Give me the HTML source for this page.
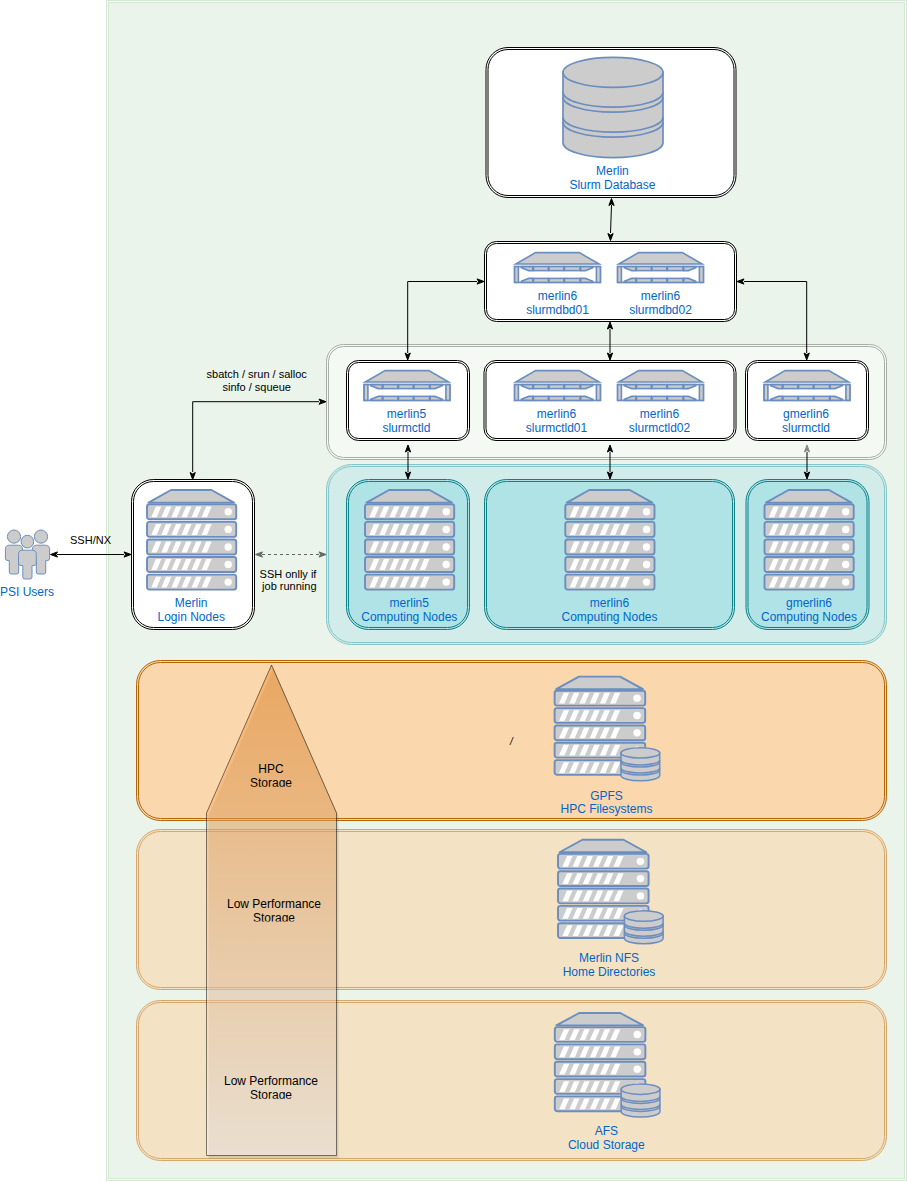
<!DOCTYPE html><html><head><meta charset="utf-8"><style>html,body{margin:0;padding:0;background:#ffffff;}body{width:907px;height:1182px;position:relative;overflow:hidden;font-family:"Liberation Sans", sans-serif;}</style></head><body><svg width="907" height="1182" viewBox="0 0 907 1182" style="position:absolute;left:0;top:0;font-family:&quot;Liberation Sans&quot;, sans-serif">
<defs><linearGradient id="ag" x1="0" y1="0" x2="0" y2="1"><stop offset="0" stop-color="#f38e2b"/><stop offset="1" stop-color="#f8f3ef"/></linearGradient><clipPath id="c1"><rect x="200" y="740" width="150" height="46.8"/></clipPath><clipPath id="c2"><rect x="200" y="880" width="150" height="41.5"/></clipPath><clipPath id="c3"><rect x="200" y="1060" width="150" height="38.8"/></clipPath><filter id="blur" x="-5%" y="-5%" width="110%" height="110%"><feGaussianBlur stdDeviation="0.7"/></filter></defs>
<rect x="106.5" y="0.5" width="800" height="1180" fill="#f4f9f4" stroke="#d5e8d4" stroke-width="1"/>
<rect x="108.5" y="2.5" width="796" height="1176" fill="#eaf4ea" stroke="#d5e8d4" stroke-width="1"/>
<rect x="326.5" y="344.5" width="560" height="115" rx="17" ry="17" fill="#f4f9f4" stroke="#a9aea9" stroke-width="1" />
<rect x="328.5" y="346.5" width="556" height="111" rx="15" ry="15" fill="none" stroke="#a9aea9" stroke-width="1" />
<rect x="326.5" y="464.5" width="560" height="180" rx="25" ry="25" fill="#d2ece9" stroke="#86c6c9" stroke-width="1" />
<rect x="328.5" y="466.5" width="556" height="176" rx="23" ry="23" fill="none" stroke="#86c6c9" stroke-width="1" />
<rect x="486" y="47.5" width="250" height="150" rx="22" ry="22" fill="#ffffff" stroke="#000" stroke-width="1" />
<rect x="488" y="49.5" width="246" height="146" rx="20" ry="20" fill="none" stroke="#000" stroke-width="1" />
<path d="M563,72.4 L563,142.7 A50.0,15 0 0 0 663,142.7 L663,72.4 Z" fill="#cccccc" stroke="#6c8ebf" stroke-width="1.7"/>
<ellipse cx="613.0" cy="72.4" rx="50.0" ry="15" fill="#cccccc" stroke="#6c8ebf" stroke-width="1.7"/>
<path d="M563,92.2 A50.0,15 0 0 0 663,92.2" fill="none" stroke="#6c8ebf" stroke-width="1.7"/>
<path d="M563,97.2 A50.0,15 0 0 0 663,97.2" fill="none" stroke="#6c8ebf" stroke-width="1.7"/>
<path d="M563,117.2 A50.0,15 0 0 0 663,117.2" fill="none" stroke="#6c8ebf" stroke-width="1.7"/>
<path d="M563,122.2 A50.0,15 0 0 0 663,122.2" fill="none" stroke="#6c8ebf" stroke-width="1.7"/>
<text x="612.4" y="175.0" font-size="12" fill="#0066cc" text-anchor="middle" >Merlin</text>
<text x="612.4" y="188.9" font-size="12" fill="#0066cc" text-anchor="middle" >Slurm Database</text>
<rect x="484.5" y="241.5" width="252" height="80" rx="12" ry="12" fill="#ffffff" stroke="#000" stroke-width="1" />
<rect x="486.5" y="243.5" width="248" height="76" rx="10" ry="10" fill="none" stroke="#000" stroke-width="1" />
<g transform="translate(514,252)" stroke="#6c8ebf" stroke-width="1.6">
<polygon points="21.6,0.6 65.3,0.6 85.1,12 1.8,12" fill="#cccccc"/>
<rect x="0.6" y="14.6" width="85.8" height="15.8" fill="#ffffff"/>
<rect x="0.6" y="14.6" width="3.8" height="15.8" fill="#cccccc"/>
<rect x="82.4" y="14.6" width="4" height="15.8" fill="#cccccc"/>
<polygon points="7.3,14.6 18.8,14.6 18.8,18.6 14.7,18.6 7.3,15.7" fill="#cccccc"/>
<rect x="19.5" y="14.6" width="14.8" height="4.0" fill="#cccccc"/>
<rect x="35.0" y="14.6" width="14.8" height="4.0" fill="#cccccc"/>
<rect x="50.5" y="14.6" width="15.5" height="4.0" fill="#cccccc"/>
<polygon points="66.7,14.6 78.8,14.6 78.8,15.7 71.4,18.6 66.7,18.6" fill="#cccccc"/>
<polygon points="7.3,30.4 18.8,30.4 18.8,26.4 14.7,26.4 7.3,29.3" fill="#cccccc"/>
<rect x="19.5" y="26.4" width="14.8" height="4.0" fill="#cccccc"/>
<rect x="35.0" y="26.4" width="14.8" height="4.0" fill="#cccccc"/>
<rect x="50.5" y="26.4" width="15.5" height="4.0" fill="#cccccc"/>
<polygon points="66.7,30.4 78.8,30.4 78.8,29.3 71.4,26.4 66.7,26.4" fill="#cccccc"/>
</g>
<g transform="translate(617,252)" stroke="#6c8ebf" stroke-width="1.6">
<polygon points="21.6,0.6 65.3,0.6 85.1,12 1.8,12" fill="#cccccc"/>
<rect x="0.6" y="14.6" width="85.8" height="15.8" fill="#ffffff"/>
<rect x="0.6" y="14.6" width="3.8" height="15.8" fill="#cccccc"/>
<rect x="82.4" y="14.6" width="4" height="15.8" fill="#cccccc"/>
<polygon points="7.3,14.6 18.8,14.6 18.8,18.6 14.7,18.6 7.3,15.7" fill="#cccccc"/>
<rect x="19.5" y="14.6" width="14.8" height="4.0" fill="#cccccc"/>
<rect x="35.0" y="14.6" width="14.8" height="4.0" fill="#cccccc"/>
<rect x="50.5" y="14.6" width="15.5" height="4.0" fill="#cccccc"/>
<polygon points="66.7,14.6 78.8,14.6 78.8,15.7 71.4,18.6 66.7,18.6" fill="#cccccc"/>
<polygon points="7.3,30.4 18.8,30.4 18.8,26.4 14.7,26.4 7.3,29.3" fill="#cccccc"/>
<rect x="19.5" y="26.4" width="14.8" height="4.0" fill="#cccccc"/>
<rect x="35.0" y="26.4" width="14.8" height="4.0" fill="#cccccc"/>
<rect x="50.5" y="26.4" width="15.5" height="4.0" fill="#cccccc"/>
<polygon points="66.7,30.4 78.8,30.4 78.8,29.3 71.4,26.4 66.7,26.4" fill="#cccccc"/>
</g>
<text x="557.5" y="300.0" font-size="12" fill="#0066cc" text-anchor="middle" >merlin6</text>
<text x="557.5" y="313.9" font-size="12" fill="#0066cc" text-anchor="middle" >slurmdbd01</text>
<text x="660.5" y="300.0" font-size="12" fill="#0066cc" text-anchor="middle" >merlin6</text>
<text x="660.5" y="313.9" font-size="12" fill="#0066cc" text-anchor="middle" >slurmdbd02</text>
<rect x="346.5" y="360.5" width="123" height="80" rx="12" ry="12" fill="#ffffff" stroke="#000" stroke-width="1" />
<rect x="348.5" y="362.5" width="119" height="76" rx="10" ry="10" fill="none" stroke="#000" stroke-width="1" />
<g transform="translate(363.5,370)" stroke="#6c8ebf" stroke-width="1.6">
<polygon points="21.6,0.6 65.3,0.6 85.1,12 1.8,12" fill="#cccccc"/>
<rect x="0.6" y="14.6" width="85.8" height="15.8" fill="#ffffff"/>
<rect x="0.6" y="14.6" width="3.8" height="15.8" fill="#cccccc"/>
<rect x="82.4" y="14.6" width="4" height="15.8" fill="#cccccc"/>
<polygon points="7.3,14.6 18.8,14.6 18.8,18.6 14.7,18.6 7.3,15.7" fill="#cccccc"/>
<rect x="19.5" y="14.6" width="14.8" height="4.0" fill="#cccccc"/>
<rect x="35.0" y="14.6" width="14.8" height="4.0" fill="#cccccc"/>
<rect x="50.5" y="14.6" width="15.5" height="4.0" fill="#cccccc"/>
<polygon points="66.7,14.6 78.8,14.6 78.8,15.7 71.4,18.6 66.7,18.6" fill="#cccccc"/>
<polygon points="7.3,30.4 18.8,30.4 18.8,26.4 14.7,26.4 7.3,29.3" fill="#cccccc"/>
<rect x="19.5" y="26.4" width="14.8" height="4.0" fill="#cccccc"/>
<rect x="35.0" y="26.4" width="14.8" height="4.0" fill="#cccccc"/>
<rect x="50.5" y="26.4" width="15.5" height="4.0" fill="#cccccc"/>
<polygon points="66.7,30.4 78.8,30.4 78.8,29.3 71.4,26.4 66.7,26.4" fill="#cccccc"/>
</g>
<text x="406.4" y="418.0" font-size="12" fill="#0066cc" text-anchor="middle" >merlin5</text>
<text x="406.4" y="431.9" font-size="12" fill="#0066cc" text-anchor="middle" >slurmctld</text>
<rect x="484" y="360.5" width="252" height="80" rx="12" ry="12" fill="#ffffff" stroke="#000" stroke-width="1" />
<rect x="486" y="362.5" width="248" height="76" rx="10" ry="10" fill="none" stroke="#000" stroke-width="1" />
<g transform="translate(514,370)" stroke="#6c8ebf" stroke-width="1.6">
<polygon points="21.6,0.6 65.3,0.6 85.1,12 1.8,12" fill="#cccccc"/>
<rect x="0.6" y="14.6" width="85.8" height="15.8" fill="#ffffff"/>
<rect x="0.6" y="14.6" width="3.8" height="15.8" fill="#cccccc"/>
<rect x="82.4" y="14.6" width="4" height="15.8" fill="#cccccc"/>
<polygon points="7.3,14.6 18.8,14.6 18.8,18.6 14.7,18.6 7.3,15.7" fill="#cccccc"/>
<rect x="19.5" y="14.6" width="14.8" height="4.0" fill="#cccccc"/>
<rect x="35.0" y="14.6" width="14.8" height="4.0" fill="#cccccc"/>
<rect x="50.5" y="14.6" width="15.5" height="4.0" fill="#cccccc"/>
<polygon points="66.7,14.6 78.8,14.6 78.8,15.7 71.4,18.6 66.7,18.6" fill="#cccccc"/>
<polygon points="7.3,30.4 18.8,30.4 18.8,26.4 14.7,26.4 7.3,29.3" fill="#cccccc"/>
<rect x="19.5" y="26.4" width="14.8" height="4.0" fill="#cccccc"/>
<rect x="35.0" y="26.4" width="14.8" height="4.0" fill="#cccccc"/>
<rect x="50.5" y="26.4" width="15.5" height="4.0" fill="#cccccc"/>
<polygon points="66.7,30.4 78.8,30.4 78.8,29.3 71.4,26.4 66.7,26.4" fill="#cccccc"/>
</g>
<g transform="translate(617,370)" stroke="#6c8ebf" stroke-width="1.6">
<polygon points="21.6,0.6 65.3,0.6 85.1,12 1.8,12" fill="#cccccc"/>
<rect x="0.6" y="14.6" width="85.8" height="15.8" fill="#ffffff"/>
<rect x="0.6" y="14.6" width="3.8" height="15.8" fill="#cccccc"/>
<rect x="82.4" y="14.6" width="4" height="15.8" fill="#cccccc"/>
<polygon points="7.3,14.6 18.8,14.6 18.8,18.6 14.7,18.6 7.3,15.7" fill="#cccccc"/>
<rect x="19.5" y="14.6" width="14.8" height="4.0" fill="#cccccc"/>
<rect x="35.0" y="14.6" width="14.8" height="4.0" fill="#cccccc"/>
<rect x="50.5" y="14.6" width="15.5" height="4.0" fill="#cccccc"/>
<polygon points="66.7,14.6 78.8,14.6 78.8,15.7 71.4,18.6 66.7,18.6" fill="#cccccc"/>
<polygon points="7.3,30.4 18.8,30.4 18.8,26.4 14.7,26.4 7.3,29.3" fill="#cccccc"/>
<rect x="19.5" y="26.4" width="14.8" height="4.0" fill="#cccccc"/>
<rect x="35.0" y="26.4" width="14.8" height="4.0" fill="#cccccc"/>
<rect x="50.5" y="26.4" width="15.5" height="4.0" fill="#cccccc"/>
<polygon points="66.7,30.4 78.8,30.4 78.8,29.3 71.4,26.4 66.7,26.4" fill="#cccccc"/>
</g>
<text x="556.5" y="418.0" font-size="12" fill="#0066cc" text-anchor="middle" >merlin6</text>
<text x="556.5" y="431.9" font-size="12" fill="#0066cc" text-anchor="middle" >slurmctld01</text>
<text x="659.5" y="418.0" font-size="12" fill="#0066cc" text-anchor="middle" >merlin6</text>
<text x="659.5" y="431.9" font-size="12" fill="#0066cc" text-anchor="middle" >slurmctld02</text>
<rect x="745.5" y="360.5" width="123" height="80" rx="12" ry="12" fill="#ffffff" stroke="#000" stroke-width="1" />
<rect x="747.5" y="362.5" width="119" height="76" rx="10" ry="10" fill="none" stroke="#000" stroke-width="1" />
<g transform="translate(763.5,370)" stroke="#6c8ebf" stroke-width="1.6">
<polygon points="21.6,0.6 65.3,0.6 85.1,12 1.8,12" fill="#cccccc"/>
<rect x="0.6" y="14.6" width="85.8" height="15.8" fill="#ffffff"/>
<rect x="0.6" y="14.6" width="3.8" height="15.8" fill="#cccccc"/>
<rect x="82.4" y="14.6" width="4" height="15.8" fill="#cccccc"/>
<polygon points="7.3,14.6 18.8,14.6 18.8,18.6 14.7,18.6 7.3,15.7" fill="#cccccc"/>
<rect x="19.5" y="14.6" width="14.8" height="4.0" fill="#cccccc"/>
<rect x="35.0" y="14.6" width="14.8" height="4.0" fill="#cccccc"/>
<rect x="50.5" y="14.6" width="15.5" height="4.0" fill="#cccccc"/>
<polygon points="66.7,14.6 78.8,14.6 78.8,15.7 71.4,18.6 66.7,18.6" fill="#cccccc"/>
<polygon points="7.3,30.4 18.8,30.4 18.8,26.4 14.7,26.4 7.3,29.3" fill="#cccccc"/>
<rect x="19.5" y="26.4" width="14.8" height="4.0" fill="#cccccc"/>
<rect x="35.0" y="26.4" width="14.8" height="4.0" fill="#cccccc"/>
<rect x="50.5" y="26.4" width="15.5" height="4.0" fill="#cccccc"/>
<polygon points="66.7,30.4 78.8,30.4 78.8,29.3 71.4,26.4 66.7,26.4" fill="#cccccc"/>
</g>
<text x="806" y="418.0" font-size="12" fill="#0066cc" text-anchor="middle" >gmerlin6</text>
<text x="806" y="431.9" font-size="12" fill="#0066cc" text-anchor="middle" >slurmctld</text>
<rect x="346.5" y="479.5" width="123" height="150" rx="22" ry="22" fill="#b0e3e6" stroke="#0e8088" stroke-width="1" />
<rect x="348.5" y="481.5" width="119" height="146" rx="20" ry="20" fill="none" stroke="#0e8088" stroke-width="1" />
<g transform="translate(364,489) scale(1.0,1.0)">
<polygon points="25,1 65.5,1 88,13.6 2.5,13.6" fill="#cccccc" stroke="#6c8ebf" stroke-width="1.9" stroke-linejoin="round"/>
<rect x="1" y="15.30" width="89.2" height="15" rx="2.4" ry="2.4" fill="#cccccc" stroke="#6c8ebf" stroke-width="1.9"/>
<polygon points="5.30,28.30 10.70,28.30 15.30,17.40 9.90,17.40" fill="#ffffff"/>
<polygon points="15.36,28.30 20.76,28.30 25.36,17.40 19.96,17.40" fill="#ffffff"/>
<polygon points="25.42,28.30 30.82,28.30 35.42,17.40 30.02,17.40" fill="#ffffff"/>
<polygon points="35.48,28.30 40.88,28.30 45.48,17.40 40.08,17.40" fill="#ffffff"/>
<polygon points="45.54,28.30 50.94,28.30 55.54,17.40 50.14,17.40" fill="#ffffff"/>
<polygon points="55.60,28.30 61.00,28.30 65.60,17.40 60.20,17.40" fill="#ffffff"/>
<circle cx="82.2" cy="22.80" r="3.7" fill="#ffffff"/>
<rect x="1" y="32.88" width="89.2" height="15" rx="2.4" ry="2.4" fill="#cccccc" stroke="#6c8ebf" stroke-width="1.9"/>
<polygon points="5.30,45.88 10.70,45.88 15.30,34.98 9.90,34.98" fill="#ffffff"/>
<polygon points="15.36,45.88 20.76,45.88 25.36,34.98 19.96,34.98" fill="#ffffff"/>
<polygon points="25.42,45.88 30.82,45.88 35.42,34.98 30.02,34.98" fill="#ffffff"/>
<polygon points="35.48,45.88 40.88,45.88 45.48,34.98 40.08,34.98" fill="#ffffff"/>
<polygon points="45.54,45.88 50.94,45.88 55.54,34.98 50.14,34.98" fill="#ffffff"/>
<polygon points="55.60,45.88 61.00,45.88 65.60,34.98 60.20,34.98" fill="#ffffff"/>
<circle cx="82.2" cy="40.38" r="3.7" fill="#ffffff"/>
<rect x="1" y="50.45" width="89.2" height="15" rx="2.4" ry="2.4" fill="#cccccc" stroke="#6c8ebf" stroke-width="1.9"/>
<polygon points="5.30,63.45 10.70,63.45 15.30,52.55 9.90,52.55" fill="#ffffff"/>
<polygon points="15.36,63.45 20.76,63.45 25.36,52.55 19.96,52.55" fill="#ffffff"/>
<polygon points="25.42,63.45 30.82,63.45 35.42,52.55 30.02,52.55" fill="#ffffff"/>
<polygon points="35.48,63.45 40.88,63.45 45.48,52.55 40.08,52.55" fill="#ffffff"/>
<polygon points="45.54,63.45 50.94,63.45 55.54,52.55 50.14,52.55" fill="#ffffff"/>
<polygon points="55.60,63.45 61.00,63.45 65.60,52.55 60.20,52.55" fill="#ffffff"/>
<circle cx="82.2" cy="57.95" r="3.7" fill="#ffffff"/>
<rect x="1" y="68.02" width="89.2" height="15" rx="2.4" ry="2.4" fill="#cccccc" stroke="#6c8ebf" stroke-width="1.9"/>
<polygon points="5.30,81.02 10.70,81.02 15.30,70.12 9.90,70.12" fill="#ffffff"/>
<polygon points="15.36,81.02 20.76,81.02 25.36,70.12 19.96,70.12" fill="#ffffff"/>
<polygon points="25.42,81.02 30.82,81.02 35.42,70.12 30.02,70.12" fill="#ffffff"/>
<polygon points="35.48,81.02 40.88,81.02 45.48,70.12 40.08,70.12" fill="#ffffff"/>
<polygon points="45.54,81.02 50.94,81.02 55.54,70.12 50.14,70.12" fill="#ffffff"/>
<polygon points="55.60,81.02 61.00,81.02 65.60,70.12 60.20,70.12" fill="#ffffff"/>
<circle cx="82.2" cy="75.52" r="3.7" fill="#ffffff"/>
<rect x="1" y="85.60" width="89.2" height="15" rx="2.4" ry="2.4" fill="#cccccc" stroke="#6c8ebf" stroke-width="1.9"/>
<polygon points="5.30,98.60 10.70,98.60 15.30,87.70 9.90,87.70" fill="#ffffff"/>
<polygon points="15.36,98.60 20.76,98.60 25.36,87.70 19.96,87.70" fill="#ffffff"/>
<polygon points="25.42,98.60 30.82,98.60 35.42,87.70 30.02,87.70" fill="#ffffff"/>
<polygon points="35.48,98.60 40.88,98.60 45.48,87.70 40.08,87.70" fill="#ffffff"/>
<polygon points="45.54,98.60 50.94,98.60 55.54,87.70 50.14,87.70" fill="#ffffff"/>
<polygon points="55.60,98.60 61.00,98.60 65.60,87.70 60.20,87.70" fill="#ffffff"/>
<circle cx="82.2" cy="93.10" r="3.7" fill="#ffffff"/>
</g>
<text x="409.3" y="607.2" font-size="12" fill="#0066cc" text-anchor="middle" >merlin5</text>
<text x="409.3" y="621.1" font-size="12" fill="#0066cc" text-anchor="middle" >Computing Nodes</text>
<rect x="484.5" y="479.5" width="250" height="150" rx="22" ry="22" fill="#b0e3e6" stroke="#0e8088" stroke-width="1" />
<rect x="486.5" y="481.5" width="246" height="146" rx="20" ry="20" fill="none" stroke="#0e8088" stroke-width="1" />
<g transform="translate(564.3,489) scale(1.0,1.0)">
<polygon points="25,1 65.5,1 88,13.6 2.5,13.6" fill="#cccccc" stroke="#6c8ebf" stroke-width="1.9" stroke-linejoin="round"/>
<rect x="1" y="15.30" width="89.2" height="15" rx="2.4" ry="2.4" fill="#cccccc" stroke="#6c8ebf" stroke-width="1.9"/>
<polygon points="5.30,28.30 10.70,28.30 15.30,17.40 9.90,17.40" fill="#ffffff"/>
<polygon points="15.36,28.30 20.76,28.30 25.36,17.40 19.96,17.40" fill="#ffffff"/>
<polygon points="25.42,28.30 30.82,28.30 35.42,17.40 30.02,17.40" fill="#ffffff"/>
<polygon points="35.48,28.30 40.88,28.30 45.48,17.40 40.08,17.40" fill="#ffffff"/>
<polygon points="45.54,28.30 50.94,28.30 55.54,17.40 50.14,17.40" fill="#ffffff"/>
<polygon points="55.60,28.30 61.00,28.30 65.60,17.40 60.20,17.40" fill="#ffffff"/>
<circle cx="82.2" cy="22.80" r="3.7" fill="#ffffff"/>
<rect x="1" y="32.88" width="89.2" height="15" rx="2.4" ry="2.4" fill="#cccccc" stroke="#6c8ebf" stroke-width="1.9"/>
<polygon points="5.30,45.88 10.70,45.88 15.30,34.98 9.90,34.98" fill="#ffffff"/>
<polygon points="15.36,45.88 20.76,45.88 25.36,34.98 19.96,34.98" fill="#ffffff"/>
<polygon points="25.42,45.88 30.82,45.88 35.42,34.98 30.02,34.98" fill="#ffffff"/>
<polygon points="35.48,45.88 40.88,45.88 45.48,34.98 40.08,34.98" fill="#ffffff"/>
<polygon points="45.54,45.88 50.94,45.88 55.54,34.98 50.14,34.98" fill="#ffffff"/>
<polygon points="55.60,45.88 61.00,45.88 65.60,34.98 60.20,34.98" fill="#ffffff"/>
<circle cx="82.2" cy="40.38" r="3.7" fill="#ffffff"/>
<rect x="1" y="50.45" width="89.2" height="15" rx="2.4" ry="2.4" fill="#cccccc" stroke="#6c8ebf" stroke-width="1.9"/>
<polygon points="5.30,63.45 10.70,63.45 15.30,52.55 9.90,52.55" fill="#ffffff"/>
<polygon points="15.36,63.45 20.76,63.45 25.36,52.55 19.96,52.55" fill="#ffffff"/>
<polygon points="25.42,63.45 30.82,63.45 35.42,52.55 30.02,52.55" fill="#ffffff"/>
<polygon points="35.48,63.45 40.88,63.45 45.48,52.55 40.08,52.55" fill="#ffffff"/>
<polygon points="45.54,63.45 50.94,63.45 55.54,52.55 50.14,52.55" fill="#ffffff"/>
<polygon points="55.60,63.45 61.00,63.45 65.60,52.55 60.20,52.55" fill="#ffffff"/>
<circle cx="82.2" cy="57.95" r="3.7" fill="#ffffff"/>
<rect x="1" y="68.02" width="89.2" height="15" rx="2.4" ry="2.4" fill="#cccccc" stroke="#6c8ebf" stroke-width="1.9"/>
<polygon points="5.30,81.02 10.70,81.02 15.30,70.12 9.90,70.12" fill="#ffffff"/>
<polygon points="15.36,81.02 20.76,81.02 25.36,70.12 19.96,70.12" fill="#ffffff"/>
<polygon points="25.42,81.02 30.82,81.02 35.42,70.12 30.02,70.12" fill="#ffffff"/>
<polygon points="35.48,81.02 40.88,81.02 45.48,70.12 40.08,70.12" fill="#ffffff"/>
<polygon points="45.54,81.02 50.94,81.02 55.54,70.12 50.14,70.12" fill="#ffffff"/>
<polygon points="55.60,81.02 61.00,81.02 65.60,70.12 60.20,70.12" fill="#ffffff"/>
<circle cx="82.2" cy="75.52" r="3.7" fill="#ffffff"/>
<rect x="1" y="85.60" width="89.2" height="15" rx="2.4" ry="2.4" fill="#cccccc" stroke="#6c8ebf" stroke-width="1.9"/>
<polygon points="5.30,98.60 10.70,98.60 15.30,87.70 9.90,87.70" fill="#ffffff"/>
<polygon points="15.36,98.60 20.76,98.60 25.36,87.70 19.96,87.70" fill="#ffffff"/>
<polygon points="25.42,98.60 30.82,98.60 35.42,87.70 30.02,87.70" fill="#ffffff"/>
<polygon points="35.48,98.60 40.88,98.60 45.48,87.70 40.08,87.70" fill="#ffffff"/>
<polygon points="45.54,98.60 50.94,98.60 55.54,87.70 50.14,87.70" fill="#ffffff"/>
<polygon points="55.60,98.60 61.00,98.60 65.60,87.70 60.20,87.70" fill="#ffffff"/>
<circle cx="82.2" cy="93.10" r="3.7" fill="#ffffff"/>
</g>
<text x="609.5" y="607.2" font-size="12" fill="#0066cc" text-anchor="middle" >merlin6</text>
<text x="609.5" y="621.1" font-size="12" fill="#0066cc" text-anchor="middle" >Computing Nodes</text>
<rect x="746" y="479.5" width="123" height="150" rx="22" ry="22" fill="#b0e3e6" stroke="#0e8088" stroke-width="1" />
<rect x="748" y="481.5" width="119" height="146" rx="20" ry="20" fill="none" stroke="#0e8088" stroke-width="1" />
<g transform="translate(763.5,489) scale(1.0,1.0)">
<polygon points="25,1 65.5,1 88,13.6 2.5,13.6" fill="#cccccc" stroke="#6c8ebf" stroke-width="1.9" stroke-linejoin="round"/>
<rect x="1" y="15.30" width="89.2" height="15" rx="2.4" ry="2.4" fill="#cccccc" stroke="#6c8ebf" stroke-width="1.9"/>
<polygon points="5.30,28.30 10.70,28.30 15.30,17.40 9.90,17.40" fill="#ffffff"/>
<polygon points="15.36,28.30 20.76,28.30 25.36,17.40 19.96,17.40" fill="#ffffff"/>
<polygon points="25.42,28.30 30.82,28.30 35.42,17.40 30.02,17.40" fill="#ffffff"/>
<polygon points="35.48,28.30 40.88,28.30 45.48,17.40 40.08,17.40" fill="#ffffff"/>
<polygon points="45.54,28.30 50.94,28.30 55.54,17.40 50.14,17.40" fill="#ffffff"/>
<polygon points="55.60,28.30 61.00,28.30 65.60,17.40 60.20,17.40" fill="#ffffff"/>
<circle cx="82.2" cy="22.80" r="3.7" fill="#ffffff"/>
<rect x="1" y="32.88" width="89.2" height="15" rx="2.4" ry="2.4" fill="#cccccc" stroke="#6c8ebf" stroke-width="1.9"/>
<polygon points="5.30,45.88 10.70,45.88 15.30,34.98 9.90,34.98" fill="#ffffff"/>
<polygon points="15.36,45.88 20.76,45.88 25.36,34.98 19.96,34.98" fill="#ffffff"/>
<polygon points="25.42,45.88 30.82,45.88 35.42,34.98 30.02,34.98" fill="#ffffff"/>
<polygon points="35.48,45.88 40.88,45.88 45.48,34.98 40.08,34.98" fill="#ffffff"/>
<polygon points="45.54,45.88 50.94,45.88 55.54,34.98 50.14,34.98" fill="#ffffff"/>
<polygon points="55.60,45.88 61.00,45.88 65.60,34.98 60.20,34.98" fill="#ffffff"/>
<circle cx="82.2" cy="40.38" r="3.7" fill="#ffffff"/>
<rect x="1" y="50.45" width="89.2" height="15" rx="2.4" ry="2.4" fill="#cccccc" stroke="#6c8ebf" stroke-width="1.9"/>
<polygon points="5.30,63.45 10.70,63.45 15.30,52.55 9.90,52.55" fill="#ffffff"/>
<polygon points="15.36,63.45 20.76,63.45 25.36,52.55 19.96,52.55" fill="#ffffff"/>
<polygon points="25.42,63.45 30.82,63.45 35.42,52.55 30.02,52.55" fill="#ffffff"/>
<polygon points="35.48,63.45 40.88,63.45 45.48,52.55 40.08,52.55" fill="#ffffff"/>
<polygon points="45.54,63.45 50.94,63.45 55.54,52.55 50.14,52.55" fill="#ffffff"/>
<polygon points="55.60,63.45 61.00,63.45 65.60,52.55 60.20,52.55" fill="#ffffff"/>
<circle cx="82.2" cy="57.95" r="3.7" fill="#ffffff"/>
<rect x="1" y="68.02" width="89.2" height="15" rx="2.4" ry="2.4" fill="#cccccc" stroke="#6c8ebf" stroke-width="1.9"/>
<polygon points="5.30,81.02 10.70,81.02 15.30,70.12 9.90,70.12" fill="#ffffff"/>
<polygon points="15.36,81.02 20.76,81.02 25.36,70.12 19.96,70.12" fill="#ffffff"/>
<polygon points="25.42,81.02 30.82,81.02 35.42,70.12 30.02,70.12" fill="#ffffff"/>
<polygon points="35.48,81.02 40.88,81.02 45.48,70.12 40.08,70.12" fill="#ffffff"/>
<polygon points="45.54,81.02 50.94,81.02 55.54,70.12 50.14,70.12" fill="#ffffff"/>
<polygon points="55.60,81.02 61.00,81.02 65.60,70.12 60.20,70.12" fill="#ffffff"/>
<circle cx="82.2" cy="75.52" r="3.7" fill="#ffffff"/>
<rect x="1" y="85.60" width="89.2" height="15" rx="2.4" ry="2.4" fill="#cccccc" stroke="#6c8ebf" stroke-width="1.9"/>
<polygon points="5.30,98.60 10.70,98.60 15.30,87.70 9.90,87.70" fill="#ffffff"/>
<polygon points="15.36,98.60 20.76,98.60 25.36,87.70 19.96,87.70" fill="#ffffff"/>
<polygon points="25.42,98.60 30.82,98.60 35.42,87.70 30.02,87.70" fill="#ffffff"/>
<polygon points="35.48,98.60 40.88,98.60 45.48,87.70 40.08,87.70" fill="#ffffff"/>
<polygon points="45.54,98.60 50.94,98.60 55.54,87.70 50.14,87.70" fill="#ffffff"/>
<polygon points="55.60,98.60 61.00,98.60 65.60,87.70 60.20,87.70" fill="#ffffff"/>
<circle cx="82.2" cy="93.10" r="3.7" fill="#ffffff"/>
</g>
<text x="809" y="607.2" font-size="12" fill="#0066cc" text-anchor="middle" >gmerlin6</text>
<text x="809" y="621.1" font-size="12" fill="#0066cc" text-anchor="middle" >Computing Nodes</text>
<rect x="131.5" y="479.5" width="123" height="150" rx="22" ry="22" fill="#ffffff" stroke="#000" stroke-width="1" />
<rect x="133.5" y="481.5" width="119" height="146" rx="20" ry="20" fill="none" stroke="#000" stroke-width="1" />
<g transform="translate(146,489) scale(1.0,1.0)">
<polygon points="25,1 65.5,1 88,13.6 2.5,13.6" fill="#cccccc" stroke="#6c8ebf" stroke-width="1.9" stroke-linejoin="round"/>
<rect x="1" y="15.30" width="89.2" height="15" rx="2.4" ry="2.4" fill="#cccccc" stroke="#6c8ebf" stroke-width="1.9"/>
<polygon points="5.30,28.30 10.70,28.30 15.30,17.40 9.90,17.40" fill="#ffffff"/>
<polygon points="15.36,28.30 20.76,28.30 25.36,17.40 19.96,17.40" fill="#ffffff"/>
<polygon points="25.42,28.30 30.82,28.30 35.42,17.40 30.02,17.40" fill="#ffffff"/>
<polygon points="35.48,28.30 40.88,28.30 45.48,17.40 40.08,17.40" fill="#ffffff"/>
<polygon points="45.54,28.30 50.94,28.30 55.54,17.40 50.14,17.40" fill="#ffffff"/>
<polygon points="55.60,28.30 61.00,28.30 65.60,17.40 60.20,17.40" fill="#ffffff"/>
<circle cx="82.2" cy="22.80" r="3.7" fill="#ffffff"/>
<rect x="1" y="32.88" width="89.2" height="15" rx="2.4" ry="2.4" fill="#cccccc" stroke="#6c8ebf" stroke-width="1.9"/>
<polygon points="5.30,45.88 10.70,45.88 15.30,34.98 9.90,34.98" fill="#ffffff"/>
<polygon points="15.36,45.88 20.76,45.88 25.36,34.98 19.96,34.98" fill="#ffffff"/>
<polygon points="25.42,45.88 30.82,45.88 35.42,34.98 30.02,34.98" fill="#ffffff"/>
<polygon points="35.48,45.88 40.88,45.88 45.48,34.98 40.08,34.98" fill="#ffffff"/>
<polygon points="45.54,45.88 50.94,45.88 55.54,34.98 50.14,34.98" fill="#ffffff"/>
<polygon points="55.60,45.88 61.00,45.88 65.60,34.98 60.20,34.98" fill="#ffffff"/>
<circle cx="82.2" cy="40.38" r="3.7" fill="#ffffff"/>
<rect x="1" y="50.45" width="89.2" height="15" rx="2.4" ry="2.4" fill="#cccccc" stroke="#6c8ebf" stroke-width="1.9"/>
<polygon points="5.30,63.45 10.70,63.45 15.30,52.55 9.90,52.55" fill="#ffffff"/>
<polygon points="15.36,63.45 20.76,63.45 25.36,52.55 19.96,52.55" fill="#ffffff"/>
<polygon points="25.42,63.45 30.82,63.45 35.42,52.55 30.02,52.55" fill="#ffffff"/>
<polygon points="35.48,63.45 40.88,63.45 45.48,52.55 40.08,52.55" fill="#ffffff"/>
<polygon points="45.54,63.45 50.94,63.45 55.54,52.55 50.14,52.55" fill="#ffffff"/>
<polygon points="55.60,63.45 61.00,63.45 65.60,52.55 60.20,52.55" fill="#ffffff"/>
<circle cx="82.2" cy="57.95" r="3.7" fill="#ffffff"/>
<rect x="1" y="68.02" width="89.2" height="15" rx="2.4" ry="2.4" fill="#cccccc" stroke="#6c8ebf" stroke-width="1.9"/>
<polygon points="5.30,81.02 10.70,81.02 15.30,70.12 9.90,70.12" fill="#ffffff"/>
<polygon points="15.36,81.02 20.76,81.02 25.36,70.12 19.96,70.12" fill="#ffffff"/>
<polygon points="25.42,81.02 30.82,81.02 35.42,70.12 30.02,70.12" fill="#ffffff"/>
<polygon points="35.48,81.02 40.88,81.02 45.48,70.12 40.08,70.12" fill="#ffffff"/>
<polygon points="45.54,81.02 50.94,81.02 55.54,70.12 50.14,70.12" fill="#ffffff"/>
<polygon points="55.60,81.02 61.00,81.02 65.60,70.12 60.20,70.12" fill="#ffffff"/>
<circle cx="82.2" cy="75.52" r="3.7" fill="#ffffff"/>
<rect x="1" y="85.60" width="89.2" height="15" rx="2.4" ry="2.4" fill="#cccccc" stroke="#6c8ebf" stroke-width="1.9"/>
<polygon points="5.30,98.60 10.70,98.60 15.30,87.70 9.90,87.70" fill="#ffffff"/>
<polygon points="15.36,98.60 20.76,98.60 25.36,87.70 19.96,87.70" fill="#ffffff"/>
<polygon points="25.42,98.60 30.82,98.60 35.42,87.70 30.02,87.70" fill="#ffffff"/>
<polygon points="35.48,98.60 40.88,98.60 45.48,87.70 40.08,87.70" fill="#ffffff"/>
<polygon points="45.54,98.60 50.94,98.60 55.54,87.70 50.14,87.70" fill="#ffffff"/>
<polygon points="55.60,98.60 61.00,98.60 65.60,87.70 60.20,87.70" fill="#ffffff"/>
<circle cx="82.2" cy="93.10" r="3.7" fill="#ffffff"/>
</g>
<text x="191.2" y="606.7" font-size="12" fill="#0066cc" text-anchor="middle" >Merlin</text>
<text x="191.2" y="620.6" font-size="12" fill="#0066cc" text-anchor="middle" >Login Nodes</text>
<g transform="translate(0,510)" fill="#cccccc" stroke="#6c8ebf" stroke-width="1">
<path d="M5.4,39.400000000000006 Q5.4,35.2 9.600000000000001,35.2 H18.400000000000002 Q22.6,35.2 22.6,39.400000000000006 V48.1 Q22.6,50.6 20.1,50.6 H18.7 V62.0 Q18.7,64.0 16.7,64.0 H11.3 Q9.3,64.0 9.3,62.0 V50.6 H7.9 Q5.4,50.6 5.4,48.1 Z"/>
<circle cx="14.0" cy="26.6" r="6.6"/>
<path d="M32.4,39.400000000000006 Q32.4,35.2 36.6,35.2 H45.4 Q49.6,35.2 49.6,39.400000000000006 V48.1 Q49.6,50.6 47.1,50.6 H45.7 V62.0 Q45.7,64.0 43.7,64.0 H38.3 Q36.3,64.0 36.3,62.0 V50.6 H34.9 Q32.4,50.6 32.4,48.1 Z"/>
<circle cx="41.0" cy="26.6" r="6.6"/>
<path d="M18.5,44.400000000000006 Q18.5,40.2 22.7,40.2 H32.099999999999994 Q36.3,40.2 36.3,44.400000000000006 V53.1 Q36.3,55.6 33.8,55.6 H32.0 V67.0 Q32.0,69.0 30.0,69.0 H24.799999999999997 Q22.799999999999997,69.0 22.799999999999997,67.0 V55.6 H21.0 Q18.5,55.6 18.5,53.1 Z"/>
<circle cx="27.4" cy="31.6" r="6.3"/>
</g>
<text x="27" y="595.6" font-size="12" fill="#0066cc" text-anchor="middle" >PSI Users</text>
<text x="90.5" y="543.7" font-size="11" fill="#000" text-anchor="middle" >SSH/NX</text>
<text x="288" y="577.7" font-size="11" fill="#000" text-anchor="middle" >SSH onlly if</text>
<text x="289.3" y="590.3" font-size="11" fill="#000" text-anchor="middle" >job running</text>
<text x="256.7" y="377.6" font-size="11" fill="#000" text-anchor="middle" >sbatch / srun / salloc</text>
<text x="256.7" y="390.9" font-size="11" fill="#000" text-anchor="middle" >sinfo / squeue</text>
<rect x="136.5" y="660.5" width="750" height="160" rx="24" ry="24" fill="#fad7ac" stroke="#b46504" stroke-width="1" />
<rect x="138.5" y="662.5" width="746" height="156" rx="22" ry="22" fill="none" stroke="#b46504" stroke-width="1" />
<rect x="136.5" y="829.5" width="750" height="160" rx="24" ry="24" fill="#f4e2c5" stroke="#d6a86c" stroke-width="1" />
<rect x="138.5" y="831.5" width="746" height="156" rx="22" ry="22" fill="none" stroke="#d6a86c" stroke-width="1" />
<rect x="136.5" y="1000.5" width="750" height="160" rx="24" ry="24" fill="#f4e2c5" stroke="#d6a86c" stroke-width="1" />
<rect x="138.5" y="1002.5" width="746" height="156" rx="22" ry="22" fill="none" stroke="#d6a86c" stroke-width="1" />
<g transform="translate(553.6,675.7) scale(1.0153846153846156,0.9861386138613861)">
<polygon points="25,1 65.5,1 88,13.6 2.5,13.6" fill="#cccccc" stroke="#6c8ebf" stroke-width="1.9" stroke-linejoin="round"/>
<rect x="1" y="15.30" width="89.2" height="15" rx="2.4" ry="2.4" fill="#cccccc" stroke="#6c8ebf" stroke-width="1.9"/>
<polygon points="5.30,28.30 10.70,28.30 15.30,17.40 9.90,17.40" fill="#ffffff"/>
<polygon points="15.36,28.30 20.76,28.30 25.36,17.40 19.96,17.40" fill="#ffffff"/>
<polygon points="25.42,28.30 30.82,28.30 35.42,17.40 30.02,17.40" fill="#ffffff"/>
<polygon points="35.48,28.30 40.88,28.30 45.48,17.40 40.08,17.40" fill="#ffffff"/>
<polygon points="45.54,28.30 50.94,28.30 55.54,17.40 50.14,17.40" fill="#ffffff"/>
<polygon points="55.60,28.30 61.00,28.30 65.60,17.40 60.20,17.40" fill="#ffffff"/>
<circle cx="82.2" cy="22.80" r="3.7" fill="#ffffff"/>
<rect x="1" y="32.88" width="89.2" height="15" rx="2.4" ry="2.4" fill="#cccccc" stroke="#6c8ebf" stroke-width="1.9"/>
<polygon points="5.30,45.88 10.70,45.88 15.30,34.98 9.90,34.98" fill="#ffffff"/>
<polygon points="15.36,45.88 20.76,45.88 25.36,34.98 19.96,34.98" fill="#ffffff"/>
<polygon points="25.42,45.88 30.82,45.88 35.42,34.98 30.02,34.98" fill="#ffffff"/>
<polygon points="35.48,45.88 40.88,45.88 45.48,34.98 40.08,34.98" fill="#ffffff"/>
<polygon points="45.54,45.88 50.94,45.88 55.54,34.98 50.14,34.98" fill="#ffffff"/>
<polygon points="55.60,45.88 61.00,45.88 65.60,34.98 60.20,34.98" fill="#ffffff"/>
<circle cx="82.2" cy="40.38" r="3.7" fill="#ffffff"/>
<rect x="1" y="50.45" width="89.2" height="15" rx="2.4" ry="2.4" fill="#cccccc" stroke="#6c8ebf" stroke-width="1.9"/>
<polygon points="5.30,63.45 10.70,63.45 15.30,52.55 9.90,52.55" fill="#ffffff"/>
<polygon points="15.36,63.45 20.76,63.45 25.36,52.55 19.96,52.55" fill="#ffffff"/>
<polygon points="25.42,63.45 30.82,63.45 35.42,52.55 30.02,52.55" fill="#ffffff"/>
<polygon points="35.48,63.45 40.88,63.45 45.48,52.55 40.08,52.55" fill="#ffffff"/>
<polygon points="45.54,63.45 50.94,63.45 55.54,52.55 50.14,52.55" fill="#ffffff"/>
<polygon points="55.60,63.45 61.00,63.45 65.60,52.55 60.20,52.55" fill="#ffffff"/>
<circle cx="82.2" cy="57.95" r="3.7" fill="#ffffff"/>
<rect x="1" y="68.02" width="89.2" height="15" rx="2.4" ry="2.4" fill="#cccccc" stroke="#6c8ebf" stroke-width="1.9"/>
<polygon points="5.30,81.02 10.70,81.02 15.30,70.12 9.90,70.12" fill="#ffffff"/>
<polygon points="15.36,81.02 20.76,81.02 25.36,70.12 19.96,70.12" fill="#ffffff"/>
<polygon points="25.42,81.02 30.82,81.02 35.42,70.12 30.02,70.12" fill="#ffffff"/>
<polygon points="35.48,81.02 40.88,81.02 45.48,70.12 40.08,70.12" fill="#ffffff"/>
<polygon points="45.54,81.02 50.94,81.02 55.54,70.12 50.14,70.12" fill="#ffffff"/>
<polygon points="55.60,81.02 61.00,81.02 65.60,70.12 60.20,70.12" fill="#ffffff"/>
<circle cx="82.2" cy="75.52" r="3.7" fill="#ffffff"/>
<rect x="1" y="85.60" width="89.2" height="15" rx="2.4" ry="2.4" fill="#cccccc" stroke="#6c8ebf" stroke-width="1.9"/>
<polygon points="5.30,98.60 10.70,98.60 15.30,87.70 9.90,87.70" fill="#ffffff"/>
<polygon points="15.36,98.60 20.76,98.60 25.36,87.70 19.96,87.70" fill="#ffffff"/>
<polygon points="25.42,98.60 30.82,98.60 35.42,87.70 30.02,87.70" fill="#ffffff"/>
<polygon points="35.48,98.60 40.88,98.60 45.48,87.70 40.08,87.70" fill="#ffffff"/>
<polygon points="45.54,98.60 50.94,98.60 55.54,87.70 50.14,87.70" fill="#ffffff"/>
<polygon points="55.60,98.60 61.00,98.60 65.60,87.70 60.20,87.70" fill="#ffffff"/>
<circle cx="82.2" cy="93.10" r="3.7" fill="#ffffff"/>
</g>
<path d="M621.0,752.9000000000001 L621.0,775.5000000000001 A19.35,5.2 0 0 0 659.7,775.5000000000001 L659.7,752.9000000000001 Z" fill="#cccccc" stroke="#6c8ebf" stroke-width="1.5"/>
<ellipse cx="640.35" cy="752.9000000000001" rx="19.35" ry="5.2" fill="#cccccc" stroke="#6c8ebf" stroke-width="1.5"/>
<path d="M621.0,759.9000000000001 A19.35,5.2 0 0 0 659.7,759.9000000000001" fill="none" stroke="#6c8ebf" stroke-width="1.5"/>
<path d="M621.0,761.9000000000001 A19.35,5.2 0 0 0 659.7,761.9000000000001" fill="none" stroke="#6c8ebf" stroke-width="1.5"/>
<path d="M621.0,767.9000000000001 A19.35,5.2 0 0 0 659.7,767.9000000000001" fill="none" stroke="#6c8ebf" stroke-width="1.5"/>
<path d="M621.0,769.9000000000001 A19.35,5.2 0 0 0 659.7,769.9000000000001" fill="none" stroke="#6c8ebf" stroke-width="1.5"/>
<text x="606.5" y="799.5" font-size="12" fill="#0066cc" text-anchor="middle" >GPFS</text>
<text x="606.5" y="813.4" font-size="12" fill="#0066cc" text-anchor="middle" >HPC Filesystems</text>
<g transform="translate(557,838.8) scale(1.0153846153846156,0.9861386138613861)">
<polygon points="25,1 65.5,1 88,13.6 2.5,13.6" fill="#cccccc" stroke="#6c8ebf" stroke-width="1.9" stroke-linejoin="round"/>
<rect x="1" y="15.30" width="89.2" height="15" rx="2.4" ry="2.4" fill="#cccccc" stroke="#6c8ebf" stroke-width="1.9"/>
<polygon points="5.30,28.30 10.70,28.30 15.30,17.40 9.90,17.40" fill="#ffffff"/>
<polygon points="15.36,28.30 20.76,28.30 25.36,17.40 19.96,17.40" fill="#ffffff"/>
<polygon points="25.42,28.30 30.82,28.30 35.42,17.40 30.02,17.40" fill="#ffffff"/>
<polygon points="35.48,28.30 40.88,28.30 45.48,17.40 40.08,17.40" fill="#ffffff"/>
<polygon points="45.54,28.30 50.94,28.30 55.54,17.40 50.14,17.40" fill="#ffffff"/>
<polygon points="55.60,28.30 61.00,28.30 65.60,17.40 60.20,17.40" fill="#ffffff"/>
<circle cx="82.2" cy="22.80" r="3.7" fill="#ffffff"/>
<rect x="1" y="32.88" width="89.2" height="15" rx="2.4" ry="2.4" fill="#cccccc" stroke="#6c8ebf" stroke-width="1.9"/>
<polygon points="5.30,45.88 10.70,45.88 15.30,34.98 9.90,34.98" fill="#ffffff"/>
<polygon points="15.36,45.88 20.76,45.88 25.36,34.98 19.96,34.98" fill="#ffffff"/>
<polygon points="25.42,45.88 30.82,45.88 35.42,34.98 30.02,34.98" fill="#ffffff"/>
<polygon points="35.48,45.88 40.88,45.88 45.48,34.98 40.08,34.98" fill="#ffffff"/>
<polygon points="45.54,45.88 50.94,45.88 55.54,34.98 50.14,34.98" fill="#ffffff"/>
<polygon points="55.60,45.88 61.00,45.88 65.60,34.98 60.20,34.98" fill="#ffffff"/>
<circle cx="82.2" cy="40.38" r="3.7" fill="#ffffff"/>
<rect x="1" y="50.45" width="89.2" height="15" rx="2.4" ry="2.4" fill="#cccccc" stroke="#6c8ebf" stroke-width="1.9"/>
<polygon points="5.30,63.45 10.70,63.45 15.30,52.55 9.90,52.55" fill="#ffffff"/>
<polygon points="15.36,63.45 20.76,63.45 25.36,52.55 19.96,52.55" fill="#ffffff"/>
<polygon points="25.42,63.45 30.82,63.45 35.42,52.55 30.02,52.55" fill="#ffffff"/>
<polygon points="35.48,63.45 40.88,63.45 45.48,52.55 40.08,52.55" fill="#ffffff"/>
<polygon points="45.54,63.45 50.94,63.45 55.54,52.55 50.14,52.55" fill="#ffffff"/>
<polygon points="55.60,63.45 61.00,63.45 65.60,52.55 60.20,52.55" fill="#ffffff"/>
<circle cx="82.2" cy="57.95" r="3.7" fill="#ffffff"/>
<rect x="1" y="68.02" width="89.2" height="15" rx="2.4" ry="2.4" fill="#cccccc" stroke="#6c8ebf" stroke-width="1.9"/>
<polygon points="5.30,81.02 10.70,81.02 15.30,70.12 9.90,70.12" fill="#ffffff"/>
<polygon points="15.36,81.02 20.76,81.02 25.36,70.12 19.96,70.12" fill="#ffffff"/>
<polygon points="25.42,81.02 30.82,81.02 35.42,70.12 30.02,70.12" fill="#ffffff"/>
<polygon points="35.48,81.02 40.88,81.02 45.48,70.12 40.08,70.12" fill="#ffffff"/>
<polygon points="45.54,81.02 50.94,81.02 55.54,70.12 50.14,70.12" fill="#ffffff"/>
<polygon points="55.60,81.02 61.00,81.02 65.60,70.12 60.20,70.12" fill="#ffffff"/>
<circle cx="82.2" cy="75.52" r="3.7" fill="#ffffff"/>
<rect x="1" y="85.60" width="89.2" height="15" rx="2.4" ry="2.4" fill="#cccccc" stroke="#6c8ebf" stroke-width="1.9"/>
<polygon points="5.30,98.60 10.70,98.60 15.30,87.70 9.90,87.70" fill="#ffffff"/>
<polygon points="15.36,98.60 20.76,98.60 25.36,87.70 19.96,87.70" fill="#ffffff"/>
<polygon points="25.42,98.60 30.82,98.60 35.42,87.70 30.02,87.70" fill="#ffffff"/>
<polygon points="35.48,98.60 40.88,98.60 45.48,87.70 40.08,87.70" fill="#ffffff"/>
<polygon points="45.54,98.60 50.94,98.60 55.54,87.70 50.14,87.70" fill="#ffffff"/>
<polygon points="55.60,98.60 61.00,98.60 65.60,87.70 60.20,87.70" fill="#ffffff"/>
<circle cx="82.2" cy="93.10" r="3.7" fill="#ffffff"/>
</g>
<path d="M624.4,916.0 L624.4,938.6 A19.35,5.2 0 0 0 663.1,938.6 L663.1,916.0 Z" fill="#cccccc" stroke="#6c8ebf" stroke-width="1.5"/>
<ellipse cx="643.75" cy="916.0" rx="19.35" ry="5.2" fill="#cccccc" stroke="#6c8ebf" stroke-width="1.5"/>
<path d="M624.4,923.0 A19.35,5.2 0 0 0 663.1,923.0" fill="none" stroke="#6c8ebf" stroke-width="1.5"/>
<path d="M624.4,925.0 A19.35,5.2 0 0 0 663.1,925.0" fill="none" stroke="#6c8ebf" stroke-width="1.5"/>
<path d="M624.4,931.0 A19.35,5.2 0 0 0 663.1,931.0" fill="none" stroke="#6c8ebf" stroke-width="1.5"/>
<path d="M624.4,933.0 A19.35,5.2 0 0 0 663.1,933.0" fill="none" stroke="#6c8ebf" stroke-width="1.5"/>
<text x="609" y="962.3" font-size="12" fill="#0066cc" text-anchor="middle" >Merlin NFS</text>
<text x="609" y="976.2" font-size="12" fill="#0066cc" text-anchor="middle" >Home Directories</text>
<g transform="translate(553.8,1012) scale(1.0153846153846156,0.9861386138613861)">
<polygon points="25,1 65.5,1 88,13.6 2.5,13.6" fill="#cccccc" stroke="#6c8ebf" stroke-width="1.9" stroke-linejoin="round"/>
<rect x="1" y="15.30" width="89.2" height="15" rx="2.4" ry="2.4" fill="#cccccc" stroke="#6c8ebf" stroke-width="1.9"/>
<polygon points="5.30,28.30 10.70,28.30 15.30,17.40 9.90,17.40" fill="#ffffff"/>
<polygon points="15.36,28.30 20.76,28.30 25.36,17.40 19.96,17.40" fill="#ffffff"/>
<polygon points="25.42,28.30 30.82,28.30 35.42,17.40 30.02,17.40" fill="#ffffff"/>
<polygon points="35.48,28.30 40.88,28.30 45.48,17.40 40.08,17.40" fill="#ffffff"/>
<polygon points="45.54,28.30 50.94,28.30 55.54,17.40 50.14,17.40" fill="#ffffff"/>
<polygon points="55.60,28.30 61.00,28.30 65.60,17.40 60.20,17.40" fill="#ffffff"/>
<circle cx="82.2" cy="22.80" r="3.7" fill="#ffffff"/>
<rect x="1" y="32.88" width="89.2" height="15" rx="2.4" ry="2.4" fill="#cccccc" stroke="#6c8ebf" stroke-width="1.9"/>
<polygon points="5.30,45.88 10.70,45.88 15.30,34.98 9.90,34.98" fill="#ffffff"/>
<polygon points="15.36,45.88 20.76,45.88 25.36,34.98 19.96,34.98" fill="#ffffff"/>
<polygon points="25.42,45.88 30.82,45.88 35.42,34.98 30.02,34.98" fill="#ffffff"/>
<polygon points="35.48,45.88 40.88,45.88 45.48,34.98 40.08,34.98" fill="#ffffff"/>
<polygon points="45.54,45.88 50.94,45.88 55.54,34.98 50.14,34.98" fill="#ffffff"/>
<polygon points="55.60,45.88 61.00,45.88 65.60,34.98 60.20,34.98" fill="#ffffff"/>
<circle cx="82.2" cy="40.38" r="3.7" fill="#ffffff"/>
<rect x="1" y="50.45" width="89.2" height="15" rx="2.4" ry="2.4" fill="#cccccc" stroke="#6c8ebf" stroke-width="1.9"/>
<polygon points="5.30,63.45 10.70,63.45 15.30,52.55 9.90,52.55" fill="#ffffff"/>
<polygon points="15.36,63.45 20.76,63.45 25.36,52.55 19.96,52.55" fill="#ffffff"/>
<polygon points="25.42,63.45 30.82,63.45 35.42,52.55 30.02,52.55" fill="#ffffff"/>
<polygon points="35.48,63.45 40.88,63.45 45.48,52.55 40.08,52.55" fill="#ffffff"/>
<polygon points="45.54,63.45 50.94,63.45 55.54,52.55 50.14,52.55" fill="#ffffff"/>
<polygon points="55.60,63.45 61.00,63.45 65.60,52.55 60.20,52.55" fill="#ffffff"/>
<circle cx="82.2" cy="57.95" r="3.7" fill="#ffffff"/>
<rect x="1" y="68.02" width="89.2" height="15" rx="2.4" ry="2.4" fill="#cccccc" stroke="#6c8ebf" stroke-width="1.9"/>
<polygon points="5.30,81.02 10.70,81.02 15.30,70.12 9.90,70.12" fill="#ffffff"/>
<polygon points="15.36,81.02 20.76,81.02 25.36,70.12 19.96,70.12" fill="#ffffff"/>
<polygon points="25.42,81.02 30.82,81.02 35.42,70.12 30.02,70.12" fill="#ffffff"/>
<polygon points="35.48,81.02 40.88,81.02 45.48,70.12 40.08,70.12" fill="#ffffff"/>
<polygon points="45.54,81.02 50.94,81.02 55.54,70.12 50.14,70.12" fill="#ffffff"/>
<polygon points="55.60,81.02 61.00,81.02 65.60,70.12 60.20,70.12" fill="#ffffff"/>
<circle cx="82.2" cy="75.52" r="3.7" fill="#ffffff"/>
<rect x="1" y="85.60" width="89.2" height="15" rx="2.4" ry="2.4" fill="#cccccc" stroke="#6c8ebf" stroke-width="1.9"/>
<polygon points="5.30,98.60 10.70,98.60 15.30,87.70 9.90,87.70" fill="#ffffff"/>
<polygon points="15.36,98.60 20.76,98.60 25.36,87.70 19.96,87.70" fill="#ffffff"/>
<polygon points="25.42,98.60 30.82,98.60 35.42,87.70 30.02,87.70" fill="#ffffff"/>
<polygon points="35.48,98.60 40.88,98.60 45.48,87.70 40.08,87.70" fill="#ffffff"/>
<polygon points="45.54,98.60 50.94,98.60 55.54,87.70 50.14,87.70" fill="#ffffff"/>
<polygon points="55.60,98.60 61.00,98.60 65.60,87.70 60.20,87.70" fill="#ffffff"/>
<circle cx="82.2" cy="93.10" r="3.7" fill="#ffffff"/>
</g>
<path d="M621.1999999999999,1089.2 L621.1999999999999,1111.8 A19.35,5.2 0 0 0 659.9,1111.8 L659.9,1089.2 Z" fill="#cccccc" stroke="#6c8ebf" stroke-width="1.5"/>
<ellipse cx="640.55" cy="1089.2" rx="19.35" ry="5.2" fill="#cccccc" stroke="#6c8ebf" stroke-width="1.5"/>
<path d="M621.1999999999999,1096.2 A19.35,5.2 0 0 0 659.9,1096.2" fill="none" stroke="#6c8ebf" stroke-width="1.5"/>
<path d="M621.1999999999999,1098.2 A19.35,5.2 0 0 0 659.9,1098.2" fill="none" stroke="#6c8ebf" stroke-width="1.5"/>
<path d="M621.1999999999999,1104.2 A19.35,5.2 0 0 0 659.9,1104.2" fill="none" stroke="#6c8ebf" stroke-width="1.5"/>
<path d="M621.1999999999999,1106.2 A19.35,5.2 0 0 0 659.9,1106.2" fill="none" stroke="#6c8ebf" stroke-width="1.5"/>
<text x="606.3" y="1135.0" font-size="12" fill="#0066cc" text-anchor="middle" >AFS</text>
<text x="606.3" y="1148.9" font-size="12" fill="#0066cc" text-anchor="middle" >Cloud Storage</text>
<text x="510" y="745" font-size="10" font-style="italic" fill="#000">/</text>
<path d="M611.5,205 L610.5,233" stroke="#000000" stroke-width="1" fill="none"/>
<polygon points="611.5,198.5 614.10,205.50 611.50,203.90 608.90,205.50" fill="#000" stroke="#000" stroke-width="1" stroke-linejoin="miter" opacity="1"/>
<polygon points="610.5,240.5 607.90,233.50 610.50,235.10 613.10,233.50" fill="#000" stroke="#000" stroke-width="1" stroke-linejoin="miter" opacity="1"/>
<path d="M477,281.5 H407.7 V353" stroke="#000000" stroke-width="1" fill="none"/>
<polygon points="484,281.5 477.00,284.10 478.60,281.50 477.00,278.90" fill="#000" stroke="#000" stroke-width="1" stroke-linejoin="miter" opacity="1"/>
<polygon points="407.7,360 405.10,353.00 407.70,354.60 410.30,353.00" fill="#000" stroke="#000" stroke-width="1" stroke-linejoin="miter" opacity="1"/>
<path d="M744,281.5 H806.7 V353" stroke="#000000" stroke-width="1" fill="none"/>
<polygon points="737,281.5 744.00,278.90 742.40,281.50 744.00,284.10" fill="#000" stroke="#000" stroke-width="1" stroke-linejoin="miter" opacity="1"/>
<polygon points="806.7,360 804.10,353.00 806.70,354.60 809.30,353.00" fill="#000" stroke="#000" stroke-width="1" stroke-linejoin="miter" opacity="1"/>
<path d="M610,329 V353" stroke="#000000" stroke-width="1" fill="none"/>
<polygon points="610,322 612.60,329.00 610.00,327.40 607.40,329.00" fill="#000" stroke="#000" stroke-width="1" stroke-linejoin="miter" opacity="1"/>
<polygon points="610,360 607.40,353.00 610.00,354.60 612.60,353.00" fill="#000" stroke="#000" stroke-width="1" stroke-linejoin="miter" opacity="1"/>
<path d="M319,401.7 H192.7 V472" stroke="#000000" stroke-width="1" fill="none"/>
<polygon points="326,401.7 319.00,404.30 320.60,401.70 319.00,399.10" fill="#000" stroke="#000" stroke-width="1" stroke-linejoin="miter" opacity="1"/>
<polygon points="192.7,479.5 190.10,472.50 192.70,474.10 195.30,472.50" fill="#000" stroke="#000" stroke-width="1" stroke-linejoin="miter" opacity="1"/>
<path d="M408,452 V472" stroke="#000000" stroke-width="1" fill="none"/>
<polygon points="408,445 410.60,452.00 408.00,450.40 405.40,452.00" fill="#000" stroke="#000" stroke-width="1" stroke-linejoin="miter" opacity="1"/>
<polygon points="408,479 405.40,472.00 408.00,473.60 410.60,472.00" fill="#000" stroke="#000" stroke-width="1" stroke-linejoin="miter" opacity="1"/>
<path d="M610,452 V472" stroke="#000000" stroke-width="1" fill="none"/>
<polygon points="610,445 612.60,452.00 610.00,450.40 607.40,452.00" fill="#000" stroke="#000" stroke-width="1" stroke-linejoin="miter" opacity="1"/>
<polygon points="610,479 607.40,472.00 610.00,473.60 612.60,472.00" fill="#000" stroke="#000" stroke-width="1" stroke-linejoin="miter" opacity="1"/>
<path d="M807,452 V472" stroke="#000000" stroke-width="1" fill="none"/>
<polygon points="807,445 809.60,452.00 807.00,450.40 804.40,452.00" fill="#000" stroke="#000" stroke-width="1" stroke-linejoin="miter" opacity="0.45"/>
<polygon points="807,479 804.40,472.00 807.00,473.60 809.60,472.00" fill="#000" stroke="#000" stroke-width="1" stroke-linejoin="miter" opacity="1"/>
<path d="M57,554.5 H124" stroke="#000000" stroke-width="1" fill="none"/>
<polygon points="50.5,554.5 57.50,551.90 55.90,554.50 57.50,557.10" fill="#000" stroke="#000" stroke-width="1" stroke-linejoin="miter" opacity="1"/>
<polygon points="131,554.5 124.00,557.10 125.60,554.50 124.00,551.90" fill="#000" stroke="#000" stroke-width="1" stroke-linejoin="miter" opacity="1"/>
<path d="M262,554.5 H319" stroke="#666666" stroke-width="1" stroke-dasharray="3 3" fill="none"/>
<polygon points="255.5,554.5 262.50,551.90 260.90,554.50 262.50,557.10" fill="#666666" stroke="#666666" stroke-width="1" stroke-linejoin="miter" opacity="1"/>
<polygon points="326,554.5 319.00,557.10 320.60,554.50 319.00,551.90" fill="#666666" stroke="#666666" stroke-width="1" stroke-linejoin="miter" opacity="1"/>
<polygon points="273.5,668 338.5,816 338.5,1158.5 208.5,1158.5 208.5,816" fill="#000" opacity="0.1" filter="url(#blur)"/>
<polygon points="271.5,665 336.5,813 336.5,1155.5 206.5,1155.5 206.5,813" fill="url(#ag)" fill-opacity="0.5" stroke="#000" stroke-opacity="0.5" stroke-width="1"/>
<g clip-path="url(#c1)">
<text x="271" y="772.8" font-size="12" fill="#000" text-anchor="middle" >HPC</text>
<text x="271" y="787.0" font-size="12" fill="#000" text-anchor="middle" >Storage</text>
</g><g clip-path="url(#c2)">
<text x="274" y="908.0" font-size="12" fill="#000" text-anchor="middle" >Low Performance</text>
<text x="274" y="922.2" font-size="12" fill="#000" text-anchor="middle" >Storage</text>
</g><g clip-path="url(#c3)">
<text x="271" y="1084.7" font-size="12" fill="#000" text-anchor="middle" >Low Performance</text>
<text x="271" y="1098.9" font-size="12" fill="#000" text-anchor="middle" >Storage</text>
</g>
</svg></body></html>
